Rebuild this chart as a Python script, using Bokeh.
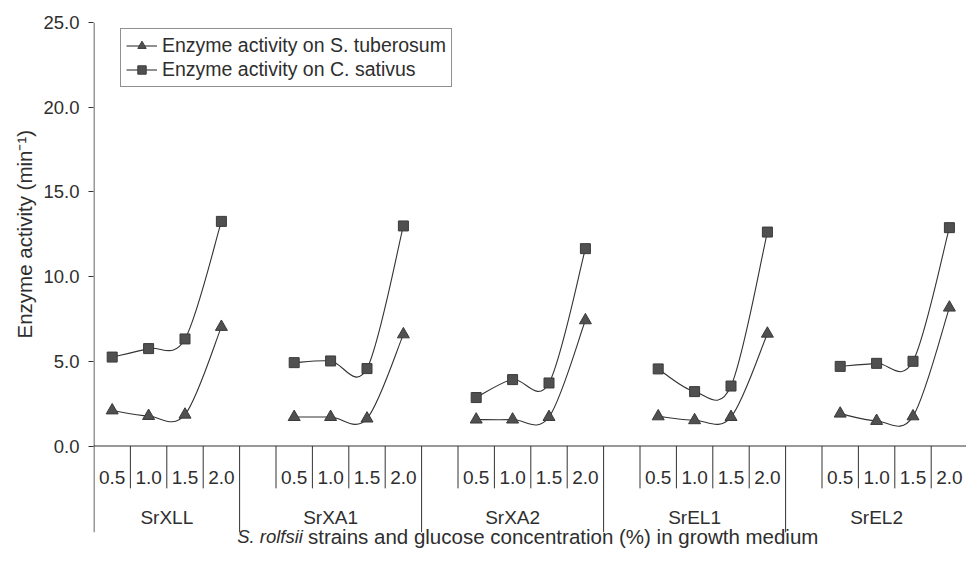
import math
from bokeh.plotting import figure
from bokeh.models import (ColumnDataSource, Range1d, FixedTicker, Span, Title,
                          Legend, LegendItem)
from bokeh.core.properties import value
from bokeh.embed import file_html
from bokeh.resources import INLINE

# ---------------- data ----------------
strains = ["SrXLL", "SrXA1", "SrXA2", "SrEL1", "SrEL2"]
concentrations = ["0.5", "1.0", "1.5", "2.0"]
tuberosum = [2.10, 1.77, 1.85, 7.03,
             1.71, 1.71, 1.62, 6.59,
             1.56, 1.56, 1.71, 7.42,
             1.75, 1.52, 1.71, 6.63,
             1.91, 1.48, 1.75, 8.17]
sativus = [5.25, 5.75, 6.32, 13.26,
           4.92, 5.02, 4.57, 12.99,
           2.86, 3.92, 3.72, 11.65,
           4.55, 3.21, 3.54, 12.63,
           4.70, 4.88, 5.00, 12.89]
y_ticks = [0, 5, 10, 15, 20, 25]
y_tick_labels = ["0.0", "5.0", "10.0", "15.0", "20.0", "25.0"]
label_tub = "Enzyme activity on S. tuberosum"
label_sat = "Enzyme activity on C. sativus"
y_title = "Enzyme activity (min\u207b\u00b9)"
x_title_italic = "S. rolfsii"
x_title_rest = "strains and glucose concentration (%) in growth medium"

FONT = "Liberation Sans"
TXT = "#2e2e2e"
LINE = "#333333"

n_conc = len(concentrations)
slots = n_conc + 1  # one empty slot between strain groups

# slot positions derived from the category structure
xc, conc_lab = [], []
for g in range(len(strains)):
    for c in range(n_conc):
        xc.append(g * slots + c + 0.5)
        conc_lab.append(concentrations[c])


def bezier_source(values):
    d = dict(x0=[], y0=[], x1=[], y1=[], cx0=[], cy0=[], cx1=[], cy1=[])
    for g in range(len(strains)):
        xs = xc[g * n_conc:(g + 1) * n_conc]
        ys = values[g * n_conc:(g + 1) * n_conc]
        n = len(xs)
        for i in range(n - 1):
            ip, inn = max(i - 1, 0), min(i + 2, n - 1)
            d["x0"].append(xs[i]); d["y0"].append(ys[i])
            d["x1"].append(xs[i + 1]); d["y1"].append(ys[i + 1])
            d["cx0"].append(xs[i] + (xs[i + 1] - xs[ip]) / 6)
            d["cy0"].append(ys[i] + (ys[i + 1] - ys[ip]) / 6)
            d["cx1"].append(xs[i + 1] - (xs[inn] - xs[i]) / 6)
            d["cy1"].append(ys[i + 1] - (ys[inn] - ys[i]) / 6)
    return ColumnDataSource(d)


W, H = 966, 561
LEFT, TOP = 93, 22
SLOT_PX = 36.4
Y_PX = 16.94
x_start = -0.5 / SLOT_PX
x_end = x_start + (W - LEFT) / SLOT_PX
y_start = 25 - (H - TOP) / Y_PX
AXIS_BOTTOM = -5.09   # where the vertical axis lines end

p = figure(width=W, height=H, output_backend="svg", toolbar_location=None,
           x_range=Range1d(x_start, x_end), y_range=Range1d(y_start, 25),
           x_axis_location=None,
           min_border_left=LEFT, min_border_right=0, min_border_top=TOP,
           min_border_bottom=0)
p.outline_line_color = None
p.xgrid.visible = False
p.ygrid.visible = False
p.background_fill_color = "white"
p.border_fill_color = "white"

yax = p.yaxis[0]
yax.ticker = FixedTicker(ticks=y_ticks)
yax.major_label_overrides = {t: l for t, l in zip(y_ticks, y_tick_labels)}
yax.minor_tick_line_color = None
yax.major_tick_in = 0
yax.major_tick_out = 5
yax.major_label_standoff = 9
yax.axis_line_color = None
yax.major_tick_line_color = LINE
yax.major_label_text_font = FONT
yax.major_label_text_font_size = "18.5px"
yax.major_label_text_color = TXT

# y-axis title, placed along the 0-25 value span
p.add_layout(Title(text=y_title, align="left", offset=223,
                   text_font=FONT, text_font_size="20.5px",
                   text_font_style="normal", text_color=TXT), "left")

# vertical axis line (continues down through the category area)
p.segment(x0=[0], x1=[0], y0=[AXIS_BOTTOM], y1=[y_ticks[-1]],
          line_color=LINE, line_width=1)
# horizontal category axis line at zero
p.add_layout(Span(location=0, dimension="width", line_color=LINE, line_width=1))

# category axis ticks: short between concentrations, long between strains
short_x, long_x = [], []
for g in range(len(strains)):
    for c in range(n_conc):
        s = g * slots + c
        if s > 0:
            short_x.append(s)
    long_x.append(g * slots + n_conc)
p.segment(x0=short_x, x1=short_x, y0=[0] * len(short_x), y1=[-2.5] * len(short_x),
          line_color=LINE, line_width=1)
p.segment(x0=long_x, x1=long_x, y0=[0] * len(long_x),
          y1=[AXIS_BOTTOM] * len(long_x), line_color=LINE, line_width=1)

# concentration labels
p.text(x=xc, y=[-1.85] * len(xc), text=conc_lab, text_align="center",
       text_baseline="middle", text_font=value(FONT), text_font_size="19px",
       text_color=TXT)
# strain labels
gx = []
for g in range(len(strains)):
    left = max(0, g * slots - 1)
    right = g * slots + n_conc
    gx.append((left + right) / 2)
p.text(x=gx, y=[-4.2] * len(gx), text=strains, text_align="center",
       text_baseline="middle", text_font=value(FONT), text_font_size="19px",
       text_color=TXT)

# x-axis title (italic genus part + regular remainder)
XT_SPLIT, XT_Y = 5.74, -5.36
p.text(x=[XT_SPLIT], y=[XT_Y], text=[x_title_italic], text_align="right",
       text_baseline="middle", text_font=value(FONT), text_font_style="italic",
       text_font_size="18.5px", text_color=TXT)
p.text(x=[XT_SPLIT], y=[XT_Y], text=[x_title_rest], text_align="left",
       x_offset=5, text_baseline="middle", text_font=value(FONT),
       text_font_size="20.5px", text_color=TXT)

# series
src_t = bezier_source(tuberosum)
src_s = bezier_source(sativus)
bz_t = p.bezier(x0="x0", y0="y0", x1="x1", y1="y1", cx0="cx0", cy0="cy0",
                cx1="cx1", cy1="cy1", source=src_t, line_color=LINE, line_width=1.1)
bz_s = p.bezier(x0="x0", y0="y0", x1="x1", y1="y1", cx0="cx0", cy0="cy0",
                cx1="cx1", cy1="cy1", source=src_s, line_color=LINE, line_width=1.1)
sc_t = p.scatter(x=xc, y=tuberosum, marker="triangle", size=12,
                 fill_color="#505050", line_color="#3a3a3a")
sc_s = p.scatter(x=xc, y=sativus, marker="square", size=10,
                 fill_color="#505050", line_color="#3a3a3a")

legend = Legend(items=[LegendItem(label=label_tub, renderers=[bz_t, sc_t]),
                       LegendItem(label=label_sat, renderers=[bz_s, sc_s])],
                location=(27, 474), orientation="vertical",
                border_line_color="#222222", border_line_width=1,
                background_fill_color="white", background_fill_alpha=1,
                padding=5, spacing=1, margin=0,
                glyph_width=31, glyph_height=21, label_height=21,
                label_standoff=5,
                label_text_font=FONT, label_text_font_size="19.5px",
                label_text_color=TXT)
p.add_layout(legend)

open("out.html", "w").write(file_html(p, INLINE))
